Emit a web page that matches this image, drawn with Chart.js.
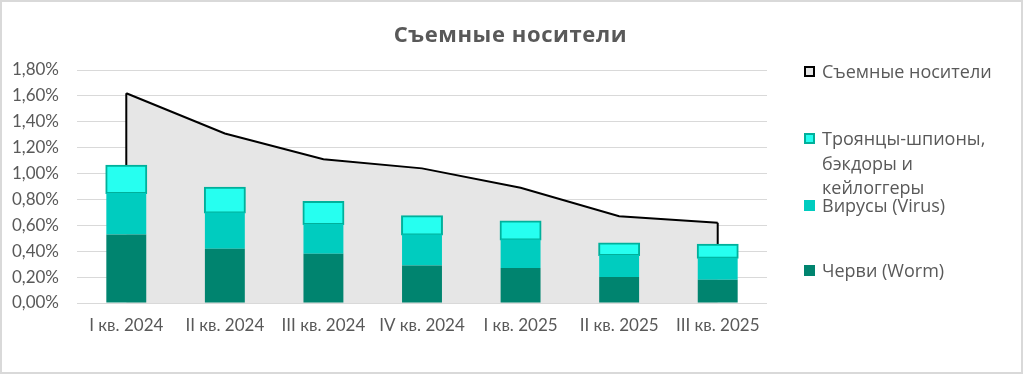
<!DOCTYPE html>
<html>
<head>
<meta charset="utf-8">
<script src="https://cdn.jsdelivr.net/npm/chart.js@4"></script>
<style>
  body { margin: 0; background: #fff; font-family: Lato, "DejaVu Sans", sans-serif; }
  #wrap { position: relative; width: 1023px; height: 374px; overflow: hidden; }
  #frame { position: absolute; left: 0; top: 0; width: 1023px; height: 374px; box-sizing: border-box; border: 2px solid #d9d9d9; pointer-events: none; }
  #chartCanvas { position: absolute; left: 0; top: 0; }
  #title { position: absolute; left: 0; width: 1021px; top: 18px; text-align: center; font-family: "Open Sans", sans-serif; font-weight: bold; font-size: 22px; letter-spacing: 0.6px; color: #595959; }
  .item { position: absolute; left: 804px; color: #595959; font-family: "Open Sans", sans-serif; font-size: 18px; line-height: 24.5px; }
  .item .box { position: absolute; left: 0; width: 11px; height: 11px; box-sizing: border-box; }
  .item .txt { position: absolute; left: 18px; white-space: nowrap; }
</style>
</head>
<body>
<div id="wrap">
  <canvas id="chartCanvas" width="1023" height="374"></canvas>
  <div id="title">Съемные носители</div>
  <div id="legend"></div>
  <div id="frame"></div>
</div>
<script>
const quarters = ["I кв. 2024", "II кв. 2024", "III кв. 2024", "IV кв. 2024", "I кв. 2025", "II кв. 2025", "III кв. 2025"];
const removableTotal = [1.62, 1.31, 1.11, 1.04, 0.89, 0.67, 0.62];
const worms = [0.53, 0.42, 0.38, 0.29, 0.27, 0.20, 0.18];
const viruses = [0.32, 0.28, 0.23, 0.24, 0.22, 0.17, 0.17];
const trojans = [0.21, 0.19, 0.17, 0.14, 0.14, 0.09, 0.10];

const legendItems = [
  { text: "Съемные носители", fill: "#e6e6e6", border: "#000000", y: 71 },
  { text: "Троянцы-шпионы,<br>бэкдоры и<br>кейлоггеры", fill: "#26fff0", border: "#00b09b", y: 138 },
  { text: "Вирусы (Virus)", fill: "#00ccbf", border: "#00ccbf", y: 205 },
  { text: "Черви (Worm)", fill: "#00846f", border: "#00846f", y: 270 }
];

document.getElementById("legend").innerHTML = legendItems.map(it =>
  `<div class="item" style="top:${it.y - 12}px">
     <div class="box" style="top:7px;background:${it.fill};border:2px solid ${it.border}"></div>
     <div class="txt">${it.text}</div>
   </div>`).join("");

// vertical edges of the area outline (Excel draws them), they end under the bars
const areaEdges = {
  id: "areaEdges",
  afterDatasetDraw(chart, args) {
    if (args.index !== 0) return;
    const meta = chart.getDatasetMeta(0);
    const y = chart.scales.y;
    const n = meta.data.length;
    const stackTop = i => y.getPixelForValue(worms[i] + viruses[i] + trojans[i]);
    const c = chart.ctx;
    c.save();
    c.strokeStyle = "#000";
    c.lineWidth = 2;
    c.beginPath();
    c.moveTo(meta.data[0].x, meta.data[0].y);
    c.lineTo(meta.data[0].x, stackTop(0) + 2);
    c.moveTo(meta.data[n - 1].x, meta.data[n - 1].y);
    c.lineTo(meta.data[n - 1].x, stackTop(n - 1) + 2);
    c.stroke();
    c.restore();
  }
};

const ctx = document.getElementById("chartCanvas").getContext("2d");
new Chart(ctx, {
  data: {
    labels: quarters,
    datasets: [
      {
        type: "line",
        label: "Съемные носители",
        data: removableTotal,
        stack: "total",
        order: 10,
        fill: "origin",
        backgroundColor: "#e6e6e6",
        borderColor: "#000",
        borderWidth: 2,
        pointRadius: 0,
        tension: 0
      },
      {
        type: "bar",
        label: "Черви (Worm)",
        data: worms,
        stack: "parts",
        order: 1,
        backgroundColor: "#00846f",
        borderWidth: 0
      },
      {
        type: "bar",
        label: "Вирусы (Virus)",
        data: viruses,
        stack: "parts",
        order: 1,
        backgroundColor: "#00ccbf",
        borderWidth: 0
      },
      {
        type: "bar",
        label: "Троянцы-шпионы, бэкдоры и кейлоггеры",
        data: trojans,
        stack: "parts",
        order: 1,
        backgroundColor: "#26fff0",
        borderColor: "#00b09b",
        borderWidth: 2,
        borderSkipped: false,
        inflateAmount: 1
      }
    ]
  },
  options: {
    responsive: false,
    animation: false,
    datasets: { bar: { categoryPercentage: 1, barPercentage: 0.405 } },
    layout: { padding: { left: 10, right: 256, top: 70, bottom: 0 } },
    plugins: {
      legend: { display: false },
      title: { display: false },
      tooltip: { enabled: false }
    },
    scales: {
      x: {
        stacked: true,
        grid: { display: false, drawTicks: false },
        border: { display: false },
        ticks: { color: "#595959", font: { family: "Lato, 'DejaVu Sans', sans-serif", size: 17 }, padding: 12, maxRotation: 0, autoSkip: false },
        afterFit: s => { s.height = 71; }
      },
      y: {
        stacked: true,
        min: 0,
        max: 1.8,
        grid: { color: "#d9d9d9", lineWidth: 1, drawTicks: false },
        border: { display: false },
        ticks: {
          stepSize: 0.2,
          padding: 18,
          color: "#595959",
          font: { family: "Lato, 'DejaVu Sans', sans-serif", size: 17 },
          callback: v => v.toFixed(2).replace(".", ",") + "%"
        },
        afterFit: s => { s.width = 67; }
      }
    }
  },
  plugins: [areaEdges]
});
</script>
</body>
</html>
